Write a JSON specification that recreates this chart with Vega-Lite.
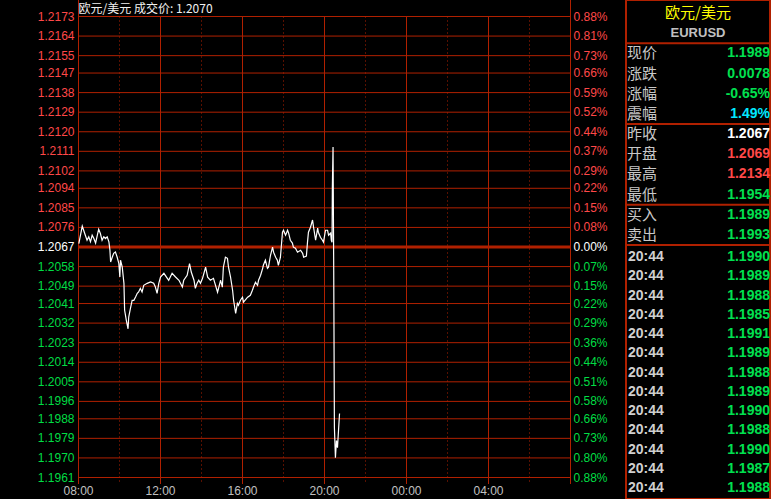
{
  "$schema": "https://vega.github.io/schema/vega-lite/v6.json",
  "width": 771,
  "height": 499,
  "autosize": "none",
  "padding": 0,
  "background": "#000000",
  "config": {"view": {"stroke": null}, "text": {"font": "Liberation Sans"}},
  "datasets": {
    "ticks": [
      {"p": 1.2173, "pct": "0.88%", "s": "up"},
      {"p": 1.2164, "pct": "0.81%", "s": "up"},
      {"p": 1.2155, "pct": "0.73%", "s": "up"},
      {"p": 1.2147, "pct": "0.66%", "s": "up"},
      {"p": 1.2138, "pct": "0.59%", "s": "up"},
      {"p": 1.2129, "pct": "0.52%", "s": "up"},
      {"p": 1.2120, "pct": "0.44%", "s": "up"},
      {"p": 1.2111, "pct": "0.37%", "s": "up"},
      {"p": 1.2102, "pct": "0.29%", "s": "up"},
      {"p": 1.2094, "pct": "0.22%", "s": "up"},
      {"p": 1.2085, "pct": "0.15%", "s": "up"},
      {"p": 1.2076, "pct": "0.08%", "s": "up"},
      {"p": 1.2067, "pct": "0.00%", "s": "flat"},
      {"p": 1.2058, "pct": "0.07%", "s": "down"},
      {"p": 1.2049, "pct": "0.15%", "s": "down"},
      {"p": 1.2041, "pct": "0.22%", "s": "down"},
      {"p": 1.2032, "pct": "0.29%", "s": "down"},
      {"p": 1.2023, "pct": "0.36%", "s": "down"},
      {"p": 1.2014, "pct": "0.44%", "s": "down"},
      {"p": 1.2005, "pct": "0.51%", "s": "down"},
      {"p": 1.1996, "pct": "0.58%", "s": "down"},
      {"p": 1.1988, "pct": "0.66%", "s": "down"},
      {"p": 1.1979, "pct": "0.73%", "s": "down"},
      {"p": 1.1970, "pct": "0.80%", "s": "down"},
      {"p": 1.1961, "pct": "0.88%", "s": "down"}
    ],
    "vl": [
      {"t": "2021-01-05T08:00", "k": "border", "lab": "08:00"},
      {"t": "2021-01-05T10:00", "k": "minor"},
      {"t": "2021-01-05T12:00", "k": "major", "lab": "12:00"},
      {"t": "2021-01-05T14:00", "k": "minor"},
      {"t": "2021-01-05T16:00", "k": "major", "lab": "16:00"},
      {"t": "2021-01-05T18:00", "k": "minor"},
      {"t": "2021-01-05T20:00", "k": "major", "lab": "20:00"},
      {"t": "2021-01-05T22:00", "k": "minor"},
      {"t": "2021-01-06T00:00", "k": "major", "lab": "00:00"},
      {"t": "2021-01-06T02:00", "k": "minor"},
      {"t": "2021-01-06T04:00", "k": "major", "lab": "04:00"},
      {"t": "2021-01-06T06:00", "k": "minor"},
      {"t": "2021-01-06T08:00", "k": "border"}
    ],
    "px": [
      {"t": "2021-01-05T08:01", "p": 1.20686},
      {"t": "2021-01-05T08:11", "p": 1.20766},
      {"t": "2021-01-05T08:20", "p": 1.20724},
      {"t": "2021-01-05T08:25", "p": 1.20701},
      {"t": "2021-01-05T08:30", "p": 1.20717},
      {"t": "2021-01-05T08:35", "p": 1.20694},
      {"t": "2021-01-05T08:40", "p": 1.20724},
      {"t": "2021-01-05T08:45", "p": 1.20709},
      {"t": "2021-01-05T08:50", "p": 1.20688},
      {"t": "2021-01-05T08:55", "p": 1.20724},
      {"t": "2021-01-05T08:59", "p": 1.20752},
      {"t": "2021-01-05T09:04", "p": 1.20732},
      {"t": "2021-01-05T09:09", "p": 1.20701},
      {"t": "2021-01-05T09:14", "p": 1.20717},
      {"t": "2021-01-05T09:19", "p": 1.20709},
      {"t": "2021-01-05T09:24", "p": 1.20717},
      {"t": "2021-01-05T09:29", "p": 1.20694},
      {"t": "2021-01-05T09:32", "p": 1.20655},
      {"t": "2021-01-05T09:34", "p": 1.20601},
      {"t": "2021-01-05T09:39", "p": 1.20624},
      {"t": "2021-01-05T09:43", "p": 1.20641},
      {"t": "2021-01-05T09:48", "p": 1.20647},
      {"t": "2021-01-05T09:53", "p": 1.20624},
      {"t": "2021-01-05T09:58", "p": 1.20595},
      {"t": "2021-01-05T10:01", "p": 1.20532},
      {"t": "2021-01-05T10:03", "p": 1.20609},
      {"t": "2021-01-05T10:08", "p": 1.20578},
      {"t": "2021-01-05T10:13", "p": 1.20503},
      {"t": "2021-01-05T10:15", "p": 1.20379},
      {"t": "2021-01-05T10:20", "p": 1.20333},
      {"t": "2021-01-05T10:25", "p": 1.20294},
      {"t": "2021-01-05T10:27", "p": 1.20348},
      {"t": "2021-01-05T10:32", "p": 1.20388},
      {"t": "2021-01-05T10:37", "p": 1.20425},
      {"t": "2021-01-05T10:42", "p": 1.20425},
      {"t": "2021-01-05T10:47", "p": 1.20440},
      {"t": "2021-01-05T10:52", "p": 1.20457},
      {"t": "2021-01-05T10:56", "p": 1.20463},
      {"t": "2021-01-05T11:01", "p": 1.20480},
      {"t": "2021-01-05T11:06", "p": 1.20463},
      {"t": "2021-01-05T11:11", "p": 1.20494},
      {"t": "2021-01-05T11:21", "p": 1.20503},
      {"t": "2021-01-05T11:31", "p": 1.20509},
      {"t": "2021-01-05T11:40", "p": 1.20503},
      {"t": "2021-01-05T11:45", "p": 1.20486},
      {"t": "2021-01-05T11:50", "p": 1.20457},
      {"t": "2021-01-05T11:55", "p": 1.20503},
      {"t": "2021-01-05T12:00", "p": 1.20532},
      {"t": "2021-01-05T12:10", "p": 1.20549},
      {"t": "2021-01-05T12:20", "p": 1.20526},
      {"t": "2021-01-05T12:24", "p": 1.20517},
      {"t": "2021-01-05T12:34", "p": 1.20549},
      {"t": "2021-01-05T12:44", "p": 1.20532},
      {"t": "2021-01-05T12:54", "p": 1.20517},
      {"t": "2021-01-05T13:04", "p": 1.20486},
      {"t": "2021-01-05T13:08", "p": 1.20517},
      {"t": "2021-01-05T13:18", "p": 1.20540},
      {"t": "2021-01-05T13:25", "p": 1.20594},
      {"t": "2021-01-05T13:30", "p": 1.20555},
      {"t": "2021-01-05T13:38", "p": 1.20517},
      {"t": "2021-01-05T13:42", "p": 1.20480},
      {"t": "2021-01-05T13:47", "p": 1.20503},
      {"t": "2021-01-05T13:52", "p": 1.20517},
      {"t": "2021-01-05T13:57", "p": 1.20503},
      {"t": "2021-01-05T14:03", "p": 1.20526},
      {"t": "2021-01-05T14:12", "p": 1.20577},
      {"t": "2021-01-05T14:18", "p": 1.20531},
      {"t": "2021-01-05T14:26", "p": 1.20517},
      {"t": "2021-01-05T14:35", "p": 1.20526},
      {"t": "2021-01-05T14:47", "p": 1.20462},
      {"t": "2021-01-05T14:56", "p": 1.20517},
      {"t": "2021-01-05T15:01", "p": 1.20485},
      {"t": "2021-01-05T15:04", "p": 1.20577},
      {"t": "2021-01-05T15:10", "p": 1.20623},
      {"t": "2021-01-05T15:16", "p": 1.20618},
      {"t": "2021-01-05T15:19", "p": 1.20577},
      {"t": "2021-01-05T15:25", "p": 1.20531},
      {"t": "2021-01-05T15:31", "p": 1.20471},
      {"t": "2021-01-05T15:34", "p": 1.20425},
      {"t": "2021-01-05T15:40", "p": 1.20365},
      {"t": "2021-01-05T15:45", "p": 1.20411},
      {"t": "2021-01-05T15:48", "p": 1.20402},
      {"t": "2021-01-05T15:54", "p": 1.20425},
      {"t": "2021-01-05T16:00", "p": 1.20439},
      {"t": "2021-01-05T16:03", "p": 1.20416},
      {"t": "2021-01-05T16:15", "p": 1.20439},
      {"t": "2021-01-05T16:23", "p": 1.20448},
      {"t": "2021-01-05T16:29", "p": 1.20471},
      {"t": "2021-01-05T16:32", "p": 1.20485},
      {"t": "2021-01-05T16:38", "p": 1.20508},
      {"t": "2021-01-05T16:44", "p": 1.20494},
      {"t": "2021-01-05T16:47", "p": 1.20517},
      {"t": "2021-01-05T16:53", "p": 1.20540},
      {"t": "2021-01-05T16:59", "p": 1.20572},
      {"t": "2021-01-05T17:01", "p": 1.20586},
      {"t": "2021-01-05T17:07", "p": 1.20609},
      {"t": "2021-01-05T17:13", "p": 1.20572},
      {"t": "2021-01-05T17:16", "p": 1.20577},
      {"t": "2021-01-05T17:22", "p": 1.20632},
      {"t": "2021-01-05T17:28", "p": 1.20669},
      {"t": "2021-01-05T17:31", "p": 1.20646},
      {"t": "2021-01-05T17:37", "p": 1.20623},
      {"t": "2021-01-05T17:42", "p": 1.20609},
      {"t": "2021-01-05T17:45", "p": 1.20586},
      {"t": "2021-01-05T17:51", "p": 1.20623},
      {"t": "2021-01-05T17:57", "p": 1.20738},
      {"t": "2021-01-05T18:00", "p": 1.20747},
      {"t": "2021-01-05T18:06", "p": 1.20724},
      {"t": "2021-01-05T18:12", "p": 1.20747},
      {"t": "2021-01-05T18:15", "p": 1.20734},
      {"t": "2021-01-05T18:20", "p": 1.20701},
      {"t": "2021-01-05T18:26", "p": 1.20688},
      {"t": "2021-01-05T18:29", "p": 1.20669},
      {"t": "2021-01-05T18:35", "p": 1.20664},
      {"t": "2021-01-05T18:41", "p": 1.20646},
      {"t": "2021-01-05T18:50", "p": 1.20655},
      {"t": "2021-01-05T18:56", "p": 1.20641},
      {"t": "2021-01-05T18:59", "p": 1.20623},
      {"t": "2021-01-05T19:07", "p": 1.20628},
      {"t": "2021-01-05T19:10", "p": 1.20688},
      {"t": "2021-01-05T19:13", "p": 1.20738},
      {"t": "2021-01-05T19:19", "p": 1.20761},
      {"t": "2021-01-05T19:25", "p": 1.20794},
      {"t": "2021-01-05T19:28", "p": 1.20761},
      {"t": "2021-01-05T19:34", "p": 1.20701},
      {"t": "2021-01-05T19:40", "p": 1.20757},
      {"t": "2021-01-05T19:42", "p": 1.20738},
      {"t": "2021-01-05T19:48", "p": 1.20715},
      {"t": "2021-01-05T19:54", "p": 1.20701},
      {"t": "2021-01-05T19:57", "p": 1.20692},
      {"t": "2021-01-05T20:03", "p": 1.20747},
      {"t": "2021-01-05T20:09", "p": 1.20747},
      {"t": "2021-01-05T20:12", "p": 1.20724},
      {"t": "2021-01-05T20:18", "p": 1.20734},
      {"t": "2021-01-05T20:20", "p": 1.20701},
      {"t": "2021-01-05T20:22", "p": 1.20692},
      {"t": "2021-01-05T20:23", "p": 1.20946},
      {"t": "2021-01-05T20:25", "p": 1.21130},
      {"t": "2021-01-05T20:27", "p": 1.20563},
      {"t": "2021-01-05T20:29", "p": 1.19840},
      {"t": "2021-01-05T20:32", "p": 1.19701},
      {"t": "2021-01-05T20:35", "p": 1.19780},
      {"t": "2021-01-05T20:38", "p": 1.19747},
      {"t": "2021-01-05T20:41", "p": 1.19826},
      {"t": "2021-01-05T20:44", "p": 1.19904}
    ],
    "info": [
      {"r": 2, "name": "现价", "v": "1.1989", "c": "down"},
      {"r": 3, "name": "涨跌", "v": "0.0078", "c": "down"},
      {"r": 4, "name": "涨幅", "v": "-0.65%", "c": "down"},
      {"r": 5, "name": "震幅", "v": "1.49%", "c": "amp"},
      {"r": 6, "name": "昨收", "v": "1.2067", "c": "flat"},
      {"r": 7, "name": "开盘", "v": "1.2069", "c": "up"},
      {"r": 8, "name": "最高", "v": "1.2134", "c": "up"},
      {"r": 9, "name": "最低", "v": "1.1954", "c": "down"},
      {"r": 10, "name": "买入", "v": "1.1989", "c": "down"},
      {"r": 11, "name": "卖出", "v": "1.1993", "c": "down"}
    ],
    "seps": [{"b": 1.5}, {"b": 5.5}, {"b": 9.5}, {"b": 11.5}],
    "trades": [
      {"r": 0, "t": "20:44", "v": "1.1990", "c": "down"},
      {"r": 1, "t": "20:44", "v": "1.1989", "c": "down"},
      {"r": 2, "t": "20:44", "v": "1.1988", "c": "down"},
      {"r": 3, "t": "20:44", "v": "1.1985", "c": "down"},
      {"r": 4, "t": "20:44", "v": "1.1991", "c": "down"},
      {"r": 5, "t": "20:44", "v": "1.1989", "c": "down"},
      {"r": 6, "t": "20:44", "v": "1.1988", "c": "down"},
      {"r": 7, "t": "20:44", "v": "1.1989", "c": "down"},
      {"r": 8, "t": "20:44", "v": "1.1990", "c": "down"},
      {"r": 9, "t": "20:44", "v": "1.1988", "c": "down"},
      {"r": 10, "t": "20:44", "v": "1.1990", "c": "down"},
      {"r": 11, "t": "20:44", "v": "1.1987", "c": "down"},
      {"r": 12, "t": "20:44", "v": "1.1988", "c": "down"}
    ]
  },
  "layer": [
    {
      "layer": [
        {
          "data": {"name": "ticks"},
          "transform": [{"filter": "datum.s != 'flat'"}],
          "mark": {"type": "rule", "color": "#b02000", "strokeWidth": 1},
          "encoding": {
            "x": {"datum": {"year": 2021, "month": 1, "date": 5, "hours": 8}, "type": "temporal",
                  "scale": {"domain": [{"year": 2021, "month": 1, "date": 5, "hours": 8}, {"year": 2021, "month": 1, "date": 6, "hours": 8}], "range": [78.5, 570.5]}, "axis": null},
            "x2": {"datum": {"year": 2021, "month": 1, "date": 6, "hours": 8}},
            "y": {"field": "p", "type": "quantitative", "scale": {"domain": [1.1961, 1.2173], "range": [477.5, 16.5], "zero": false, "nice": false}, "axis": null}
          }
        },
        {
          "data": {"name": "vl"},
          "transform": [{"filter": "datum.k == 'border'"}],
          "mark": {"type": "rule", "color": "#b02000", "strokeWidth": 1},
          "encoding": {
            "x": {"field": "t", "type": "temporal", "axis": null},
            "y": {"datum": 1.2181, "type": "quantitative"},
            "y2": {"datum": 1.1958}
          }
        },
        {
          "data": {"name": "vl"},
          "transform": [{"filter": "datum.k == 'major'"}],
          "mark": {"type": "rule", "color": "#b02000", "strokeWidth": 1},
          "encoding": {
            "x": {"field": "t", "type": "temporal", "axis": null},
            "y": {"datum": 1.2173, "type": "quantitative"},
            "y2": {"datum": 1.1958}
          }
        },
        {
          "data": {"name": "vl"},
          "transform": [{"filter": "datum.k == 'minor'"}],
          "mark": {"type": "rule", "color": "#b02000", "strokeWidth": 1, "strokeDash": [1, 3]},
          "encoding": {
            "x": {"field": "t", "type": "temporal", "axis": null},
            "y": {"datum": 1.2173, "type": "quantitative"},
            "y2": {"datum": 1.1959}
          }
        },
        {
          "data": {"name": "ticks"},
          "transform": [{"filter": "datum.s == 'flat'"}],
          "mark": {"type": "rule", "color": "#b02000", "strokeWidth": 3},
          "encoding": {
            "x": {"datum": {"year": 2021, "month": 1, "date": 5, "hours": 8}, "type": "temporal"},
            "x2": {"datum": {"year": 2021, "month": 1, "date": 6, "hours": 8}},
            "y": {"field": "p", "type": "quantitative"}
          }
        },
        {
          "data": {"name": "px"},
          "mark": {"type": "line", "color": "#ffffff", "strokeWidth": 1.2},
          "encoding": {
            "x": {"field": "t", "type": "temporal"},
            "y": {"field": "p", "type": "quantitative"}
          }
        },
        {
          "data": {"name": "ticks"},
          "mark": {"type": "text", "align": "right", "baseline": "middle", "dx": -4, "fontSize": 12},
          "encoding": {
            "x": {"datum": {"year": 2021, "month": 1, "date": 5, "hours": 8}, "type": "temporal"},
            "y": {"field": "p", "type": "quantitative"},
            "text": {"field": "p", "type": "quantitative", "format": ".4f"},
            "color": {"field": "s", "type": "nominal", "scale": {"domain": ["up", "flat", "down"], "range": ["#ff4848", "#ffffff", "#00dd44"]}, "legend": null}
          }
        },
        {
          "data": {"name": "ticks"},
          "mark": {"type": "text", "align": "left", "baseline": "middle", "dx": 3, "fontSize": 12},
          "encoding": {
            "x": {"datum": {"year": 2021, "month": 1, "date": 6, "hours": 8}, "type": "temporal"},
            "y": {"field": "p", "type": "quantitative"},
            "text": {"field": "pct"},
            "color": {"field": "s", "type": "nominal", "legend": null}
          }
        },
        {
          "data": {"name": "vl"},
          "transform": [{"filter": "isValid(datum.lab)"}],
          "mark": {"type": "text", "align": "center", "baseline": "middle", "dy": 13, "fontSize": 12, "color": "#c0c0c0"},
          "encoding": {
            "x": {"field": "t", "type": "temporal"},
            "y": {"datum": 1.1961, "type": "quantitative"},
            "text": {"field": "lab"}
          }
        },
        {
          "data": {"values": [{"h": "欧元/美元 成交价: 1.2070"}]},
          "mark": {"type": "text", "align": "left", "baseline": "middle", "font": "Noto Sans CJK SC", "fontSize": 12, "color": "#f0f0f0"},
          "encoding": {
            "x": {"datum": {"year": 2021, "month": 1, "date": 5, "hours": 8}, "type": "temporal"},
            "y": {"datum": 1.21765, "type": "quantitative"},
            "text": {"field": "h"}
          }
        }
      ]
    },
    {
      "layer": [
        {
          "data": {"values": [{"id": "panel"}]},
          "mark": {"type": "rect", "filled": false, "stroke": "#b02000", "strokeWidth": 2},
          "encoding": {
            "x": {"datum": 0, "type": "quantitative", "scale": {"domain": [0, 1], "range": [626, 770], "zero": false, "nice": false}, "axis": null},
            "x2": {"datum": 1}
          }
        },
        {
          "layer": [
            {
              "data": {"name": "seps"},
              "mark": {"type": "rule", "color": "#b02000", "strokeWidth": 2},
              "encoding": {
                "x": {"datum": 0, "type": "quantitative"},
                "x2": {"datum": 1},
                "y": {"field": "b", "type": "quantitative", "scale": {"domain": [0, 11], "range": [13, 235], "zero": false, "nice": false}, "axis": null}
              }
            },
            {
              "data": {"values": [{"r": 0, "name": "欧元/美元"}]},
              "mark": {"type": "text", "align": "center", "baseline": "middle", "font": "Noto Sans CJK SC", "fontSize": 15, "color": "#ffff00"},
              "encoding": {
                "x": {"datum": 0.5, "type": "quantitative"},
                "y": {"field": "r", "type": "quantitative"},
                "text": {"field": "name"}
              }
            },
            {
              "data": {"values": [{"r": 1, "name": "EURUSD"}]},
              "mark": {"type": "text", "align": "center", "baseline": "middle", "fontSize": 13, "fontWeight": "bold", "color": "#c0c0c0"},
              "encoding": {
                "x": {"datum": 0.5, "type": "quantitative"},
                "y": {"field": "r", "type": "quantitative"},
                "text": {"field": "name"}
              }
            },
            {
              "data": {"name": "info"},
              "mark": {"type": "text", "align": "left", "baseline": "middle", "dx": 1, "font": "Noto Sans CJK SC", "fontSize": 15, "color": "#c8c8c8"},
              "encoding": {
                "x": {"datum": 0, "type": "quantitative"},
                "y": {"field": "r", "type": "quantitative"},
                "text": {"field": "name"}
              }
            },
            {
              "data": {"name": "info"},
              "mark": {"type": "text", "align": "right", "baseline": "middle", "dx": 0, "fontSize": 14, "fontWeight": "bold"},
              "encoding": {
                "x": {"datum": 1, "type": "quantitative"},
                "y": {"field": "r", "type": "quantitative"},
                "text": {"field": "v"},
                "color": {"field": "c", "type": "nominal", "scale": {"domain": ["down", "up", "flat", "amp"], "range": ["#00e050", "#ff4848", "#ffffff", "#00e8ff"]}, "legend": null}
              }
            }
          ]
        },
        {
          "data": {"name": "trades"},
          "layer": [
            {
              "mark": {"type": "text", "align": "left", "baseline": "middle", "dx": 2, "fontSize": 14, "fontWeight": "bold", "color": "#d0d0d0"},
              "encoding": {
                "x": {"datum": 0, "type": "quantitative"},
                "y": {"field": "r", "type": "quantitative", "scale": {"domain": [0, 12], "range": [257, 488], "zero": false, "nice": false}, "axis": null},
                "text": {"field": "t"}
              }
            },
            {
              "mark": {"type": "text", "align": "right", "baseline": "middle", "dx": 0, "fontSize": 14, "fontWeight": "bold"},
              "encoding": {
                "x": {"datum": 1, "type": "quantitative"},
                "y": {"field": "r", "type": "quantitative"},
                "text": {"field": "v"},
                "color": {"field": "c", "type": "nominal", "legend": null}
              }
            }
          ]
        }
      ],
      "resolve": {"scale": {"y": "independent"}}
    }
  ],
  "resolve": {"scale": {"x": "independent", "y": "independent", "color": "independent"}}
}
